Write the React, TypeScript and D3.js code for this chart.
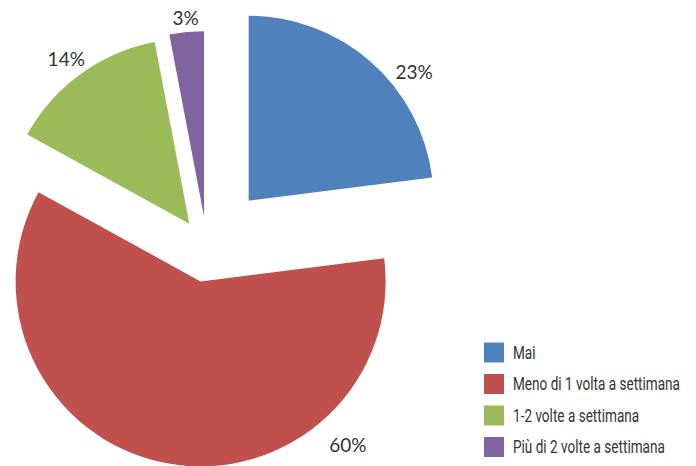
import React, { useLayoutEffect, useRef, useState } from "react";
import * as d3 from "d3";

const categories = ["Mai", "Meno di 1 volta a settimana", "1-2 volte a settimana", "Più di 2 volte a settimana"];
const values = [23, 60, 14, 3];
const labels = ["23%", "60%", "14%", "3%"];

const colors = ["#4F81BD", "#C0504D", "#9BBB59", "#8064A2"];
const explode = [63, 34, 30, 32];
const labelAngleDeg = [52, 138, 323.3, 354.7];
const labelDist = [210, 220, 206, 199];

const W = 696;
const H = 466;
const CX = 207;
const CY = 248;
const R = 185;
const LEGEND_TEXT_TARGET = 167;

export default function App() {
  const pie = d3.pie<number>().sort(null).value((d) => d).startAngle(0).endAngle(2 * Math.PI);
  const arcs = pie(values);
  const arc = d3.arc<d3.PieArcDatum<number>>().innerRadius(0).outerRadius(R);

  const legendY = d3.scaleLinear().domain([0, 1]).range([352.5, 384]);

  const textRefs = useRef<(SVGTextElement | null)[]>([]);
  const [sx, setSx] = useState(0.8);

  useLayoutEffect(() => {
    const widths = textRefs.current.map((t) => (t ? t.getComputedTextLength() : 0));
    const maxW = d3.max(widths) || 1;
    setSx(LEGEND_TEXT_TARGET / maxW);
  }, []);

  return (
    <svg width={W} height={H} style={{ position: "absolute", left: 0, top: 0, background: "#fff" }}>
      {arcs.map((a, i) => {
        const mid = (a.startAngle + a.endAngle) / 2;
        const ox = CX + Math.sin(mid) * explode[i];
        const oy = CY - Math.cos(mid) * explode[i];
        const la = (labelAngleDeg[i] * Math.PI) / 180;
        const lx = ox + Math.sin(la) * labelDist[i];
        const ly = oy - Math.cos(la) * labelDist[i];
        return (
          <g key={i}>
            <path d={arc(a) || ""} transform={`translate(${ox},${oy})`} fill={colors[i]} />
            <text
              x={lx}
              y={ly}
              textAnchor="middle"
              dominantBaseline="central"
              fontFamily="Lato, 'Open Sans', sans-serif"
              fontSize={19}
              fill="#333"
            >
              {labels[i]}
            </text>
          </g>
        );
      })}
      {categories.map((c, i) => (
        <g key={c} transform={`translate(484,${legendY(i)})`}>
          <rect x={0} y={-10} width={20} height={20} fill={colors[i]} />
          <g transform={`translate(29,0) scale(${sx},1)`}>
            <text
              ref={(el) => {
                textRefs.current[i] = el;
              }}
              x={0}
              y={0}
              dominantBaseline="central"
              fontFamily="Roboto, 'Noto Sans', sans-serif"
              fontSize={19}
              fill="#333"
            >
              {c}
            </text>
          </g>
        </g>
      ))}
    </svg>
  );
}
